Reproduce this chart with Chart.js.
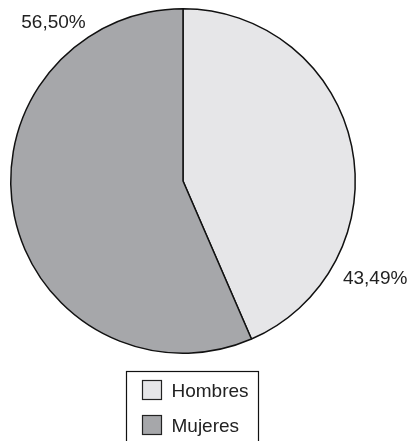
<!DOCTYPE html>
<html>
<head>
<meta charset="utf-8">
<script src="https://cdn.jsdelivr.net/npm/chart.js@4.4.0/dist/chart.umd.min.js"></script>
<style>
  html, body { margin: 0; padding: 0; background: #fff; }
  #wrap { width: 412px; height: 441px; }
</style>
</head>
<body>
<div id="wrap"><canvas id="myChart" width="412" height="441"></canvas></div>
<script>
const categories = ['Hombres', 'Mujeres'];
const values = [43.49, 56.50];
const valueLabels = ['43,49%', '56,50%'];
const colors = ['#e6e6e8', '#a6a7aa'];

// where each percentage label sits (clockwise degrees from top, multiple of radius)
const labelSpots = [{ angle: 116.9, dist: 1.251 }, { angle: 320.7, dist: 1.187 }];

const fontFamily = '"Liberation Sans", Arial, sans-serif';

const outsideLabels = {
  id: 'outsideLabels',
  afterDraw(chart) {
    const ctx = chart.ctx;
    const arc = chart.getDatasetMeta(0).data[0];
    const cx = arc.x, cy = arc.y, r = arc.outerRadius;
    ctx.save();
    ctx.font = '19px ' + fontFamily;
    ctx.fillStyle = '#222';
    ctx.textAlign = 'center';
    ctx.textBaseline = 'middle';
    valueLabels.forEach((txt, i) => {
      const a = labelSpots[i].angle * Math.PI / 180;
      const d = labelSpots[i].dist * r;
      ctx.fillText(txt, cx + Math.sin(a) * d, cy - Math.cos(a) * d);
    });
    ctx.restore();
  }
};

const boxLegend = {
  id: 'boxLegend',
  afterDraw(chart) {
    const ctx = chart.ctx;
    const left = 126.5, top = 371.5, w = 132, h = 80;
    ctx.save();
    ctx.strokeStyle = '#111';
    ctx.lineWidth = 1.2;
    ctx.strokeRect(left, top, w, h);
    ctx.font = '19px ' + fontFamily;
    ctx.textBaseline = 'middle';
    categories.forEach((name, i) => {
      const y = top + 9 + i * 35;
      ctx.fillStyle = colors[i];
      ctx.fillRect(left + 16, y, 19, 19);
      ctx.strokeStyle = '#222';
      ctx.strokeRect(left + 16, y, 19, 19);
      ctx.fillStyle = '#222';
      ctx.fillText(name, left + 45, y + 11);
    });
    ctx.restore();
  }
};

const data = {
  labels: categories,
  datasets: [{
    data: values,
    backgroundColor: colors,
    borderColor: '#111',
    borderWidth: 1.5
  }]
};

const config = {
  type: 'pie',
  data,
  options: {
    responsive: false,
    animation: false,
    layout: { padding: { left: 10, right: 56, top: 8, bottom: 87 } },
    plugins: {
      legend: { display: false },
      tooltip: { enabled: false }
    }
  },
  plugins: [outsideLabels, boxLegend]
};

var myChart = new Chart(document.getElementById('myChart'), config);
</script>
</body>
</html>
